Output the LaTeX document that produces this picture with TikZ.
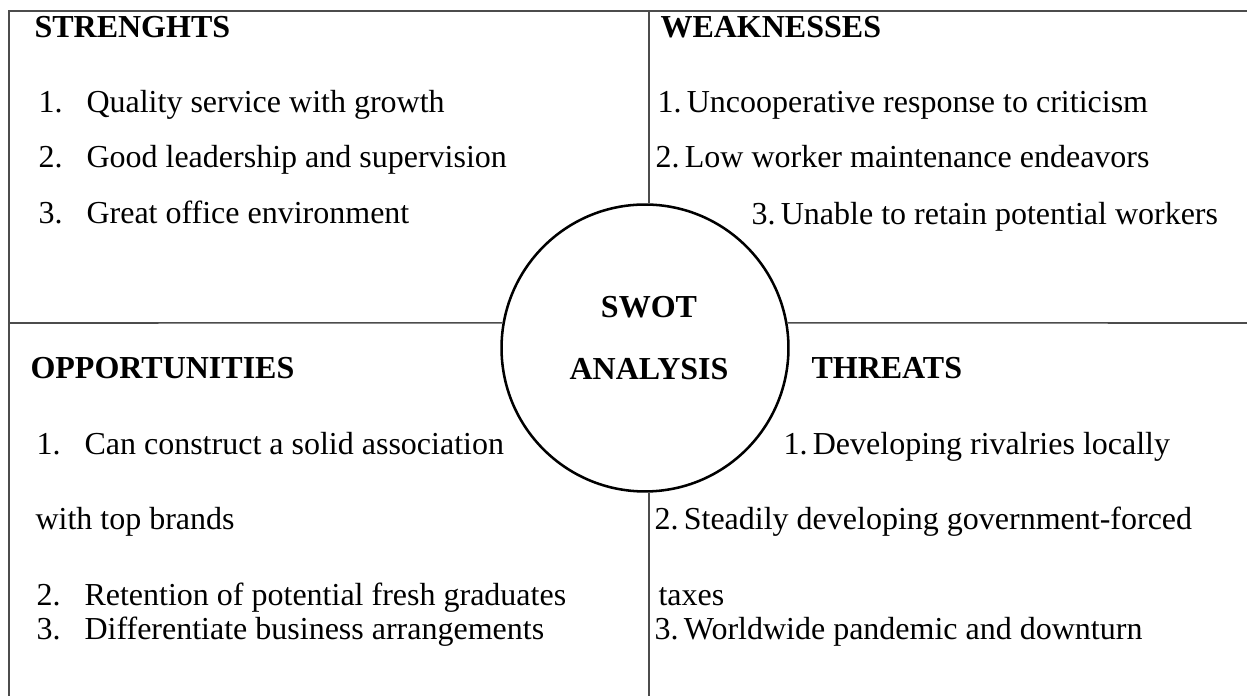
\documentclass[tikz,border=0pt,12pt]{standalone}
\usepackage{fontspec}
\setmainfont{Liberation Serif}
\usetikzlibrary{shapes.geometric}
\tikzstyle{heading} = [anchor=base west, inner sep=0pt, font=\bfseries]
\tikzstyle{item} = [anchor=base west, inner sep=0pt]
\tikzstyle{frame} = [draw=black!70, line width=0.6pt]
\tikzstyle{hub} = [circle, draw=black, line width=0.95pt, minimum size=107.6pt, inner sep=0pt]
\newcommand{\itemno}[1]{\makebox[18pt][l]{#1}}

\begin{document}
\begin{tikzpicture}[x=0.375pt, y=-0.375pt]
      \useasboundingbox (0,0) rectangle (1247,696);

      % corners of the grid
      \coordinate (tl) at (9,11);
      \coordinate (tr) at (1247,11);
      \coordinate (bl) at (9,696);
      \coordinate (tm) at (649,11);
      \coordinate (bm) at (649,696);
      \coordinate (ml) at (9,323);
      \coordinate (mr) at (1247,323);

      \node (swot) [hub] at (645,348) {};
      \node (swottop) [heading, anchor=base] at (649,318) {SWOT};
      \node (swotbottom) [heading, anchor=base] at (649,380) {ANALYSIS};

      \draw [frame] (tr) -- (tl) -- (bl);
      \draw [frame] (tm) -- (tm |- swot.north);
      \draw [frame] (swot.south -| bm) -- (bm);
      \draw [frame] (ml) -- (swot.170);
      \draw [frame] (swot.10) -- (mr);

      \node (strengths) [heading] at (34,38) {STRENGHTS};
      \node (s1) [item] at (38,113) {\itemno{1.}Quality service with growth};
      \node (s2) [item] at (38,168) {\itemno{2.}Good leadership and supervision};
      \node (s3) [item] at (38,224) {\itemno{3.}Great office environment};

      \node (weaknesses) [heading] at (660,38) {WEAKNESSES};
      \node (w1) [item] at (657,113) {1.\,Uncooperative response to criticism};
      \node (w2) [item] at (655,168) {2.\,Low worker maintenance endeavors};
      \node (w3) [item] at (751,225) {3.\,Unable to retain potential workers};

      \node (opportunities) [heading] at (30,379) {OPPORTUNITIES};
      \node (o1) [item] at (36,455) {\itemno{1.}Can construct a solid association};
      \node (o1b) [item] at (35,530) {with top brands};
      \node (o2) [item] at (36,606) {\itemno{2.}Retention of potential fresh graduates};
      \node (o3) [item] at (36,640) {\itemno{3.}Differentiate business arrangements};

      \node (threats) [heading] at (811,379) {THREATS};
      \node (t1) [item] at (783,455) {1.\,Developing rivalries locally};
      \node (t2) [item] at (654,530) {2.\,Steadily developing government-forced};
      \node (t2b) [item] at (658,606) {taxes};
      \node (t3) [item] at (654,640) {3.\,Worldwide pandemic and downturn};
    \end{tikzpicture}
\end{document}
